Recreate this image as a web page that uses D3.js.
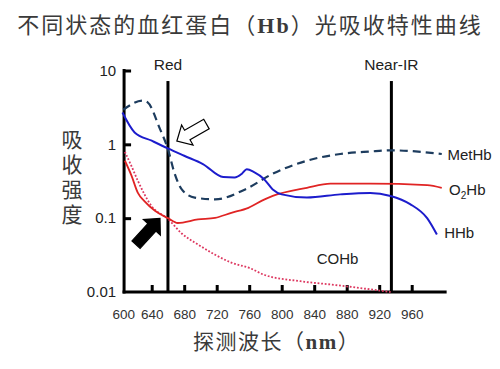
<!DOCTYPE html>
<html><head><meta charset="utf-8">
<script src="https://cdn.jsdelivr.net/npm/d3@7"></script>
<style>
html,body{margin:0;padding:0;background:#fff;}
svg{display:block;}
</style></head>
<body>
<svg id="c" width="500" height="369"></svg>
<script>
// ---- data (wavelength nm, absorbance) ----
const xTicks = [600, 640, 680, 720, 760, 800, 840, 880, 920, 960];
const yTicks = [10, 1, 0.1, 0.01];
const yTickLabels = ["10", "1", "0.1", "0.01"];

const hhbNm  = [604, 619, 640, 660, 680, 703, 728, 742, 751, 757, 766, 778, 789, 800, 831, 872, 909, 934, 958, 979, 991];
const hhbVal = [2.7, 1.45, 1.12, 0.88, 0.70, 0.54, 0.36, 0.355, 0.40, 0.46, 0.42, 0.34, 0.245, 0.21, 0.19, 0.21, 0.22, 0.20, 0.155, 0.10, 0.06];

const metNm  = [605, 629, 635, 650, 660, 668, 677, 693, 718, 755, 789, 831, 872, 909, 934, 997];
const metVal = [2.94, 3.9, 3.7, 1.63, 0.86, 0.41, 0.245, 0.19, 0.18, 0.245, 0.40, 0.60, 0.74, 0.80, 0.83, 0.74];

const o2Nm  = [607, 615, 623, 631, 644, 660, 672, 697, 718, 738, 759, 779, 789, 831, 860, 909, 979, 997];
const o2Val = [0.60, 0.38, 0.22, 0.17, 0.126, 0.10, 0.086, 0.096, 0.101, 0.118, 0.138, 0.18, 0.20, 0.258, 0.293, 0.293, 0.281, 0.258];

const coNm  = [607, 615, 623, 640, 660, 677, 697, 718, 738, 761, 779, 823, 864, 897, 934];
const coVal = [0.79, 0.51, 0.32, 0.145, 0.098, 0.062, 0.044, 0.032, 0.025, 0.021, 0.017, 0.014, 0.0125, 0.0113, 0.0100];

const markerNm = [660, 935];
const markerLabels = ["Red", "Near-IR"];

// ---- scales ----
const svg = d3.select("#c");
const x = d3.scaleLinear().domain([600, 1000]).range([119.2, 444.2]);
const y = d3.scaleLog().domain([0.01, 10]).range([292, 70.5]);

const sans = "'Liberation Sans', Arial, sans-serif";
const cjk = "'Noto Sans CJK SC', sans-serif";
const serif = "'Liberation Serif', 'Times New Roman', serif";

// ---- title ----
const title = svg.append("text").attr("x", 250).attr("y", 33).attr("text-anchor", "middle")
  .style("font-family", cjk).style("font-size", "22px").style("letter-spacing", "2px").attr("fill", "#3a3a3a");
title.append("tspan").text("不同状态的血红蛋白（");
title.append("tspan").text("Hb").style("font-family", serif).style("font-weight", "bold");
title.append("tspan").text("）光吸收特性曲线");

// ---- axes ----
const xAxis = d3.axisBottom(x).tickValues(xTicks).tickSize(-7).tickPadding(17).tickFormat(d3.format("d"));
const gx = svg.append("g").attr("transform", `translate(0,${y(0.01)})`).call(xAxis);
gx.select(".domain").remove();
gx.selectAll(".tick line").attr("stroke", "#000").attr("stroke-width", 3)
  .attr("display", d => d === 600 ? "none" : null);
gx.selectAll(".tick text").style("font-family", sans).style("font-size", "13.5px").attr("fill", "#333")
  .attr("dx", d => d === 600 ? 4 : 0);

const yAxis = d3.axisLeft(y).tickValues(yTicks).tickSize(-7).tickPadding(8)
  .tickFormat((d, i) => yTickLabels[i]);
const gy = svg.append("g").attr("transform", `translate(${x(606)},0)`).call(yAxis);
gy.select(".domain").remove();
gy.selectAll(".tick line").attr("stroke", "#000").attr("stroke-width", 3)
  .attr("display", d => d === 0.01 ? "none" : null);
gy.selectAll(".tick text").style("font-family", sans).style("font-size", "15px").attr("fill", "#222");

// axis lines
svg.append("line").attr("x1", x(606)).attr("x2", x(606)).attr("y1", y(10) - 1.5).attr("y2", y(0.01) + 1.5)
  .attr("stroke", "#000").attr("stroke-width", 3);
svg.append("line").attr("x1", x(606) - 1.5).attr("x2", x(1003)).attr("y1", y(0.01)).attr("y2", y(0.01))
  .attr("stroke", "#000").attr("stroke-width", 3);

// ---- marker lines ----
markerNm.forEach((nm, i) => {
  svg.append("line").attr("x1", x(nm)).attr("x2", x(nm)).attr("y1", y(7.2)).attr("y2", y(0.01))
    .attr("stroke", "#000").attr("stroke-width", 3);
  svg.append("text").attr("x", x(nm)).attr("y", 70).attr("text-anchor", "middle")
    .style("font-family", sans).style("font-size", "15.5px").attr("fill", "#222").text(markerLabels[i]);
});

// ---- curves ----
const line = d3.line().x(d => x(d[0])).y(d => y(d[1])).curve(d3.curveMonotoneX);
const zip = (a, b) => a.map((v, i) => [v, b[i]]);

svg.append("path").datum(zip(coNm, coVal)).attr("d", line).attr("fill", "none")
  .attr("stroke", "#dd3860").attr("stroke-width", 1.8).attr("stroke-dasharray", "1.8,1.8");
svg.append("path").datum(zip(o2Nm, o2Val)).attr("d", line).attr("fill", "none")
  .attr("stroke", "#e02424").attr("stroke-width", 1.8);
svg.append("path").datum(zip(metNm, metVal)).attr("d", line).attr("fill", "none")
  .attr("stroke", "#1d3c5e").attr("stroke-width", 2.2).attr("stroke-dasharray", "8,5");
svg.append("path").datum(zip(hhbNm, hhbVal)).attr("d", line).attr("fill", "none")
  .attr("stroke", "#1c1ccc").attr("stroke-width", 2);

// ---- series labels ----
const lab = (nm, v, txt) => svg.append("text").attr("x", x(nm)).attr("y", y(v)).attr("dy", "0.36em")
  .style("font-family", sans).style("font-size", "15px").attr("fill", "#222").text(txt);
lab(1004, 0.716, "MetHb");
const o2 = lab(1006, 0.24, "O");
o2.append("tspan").text("2").style("font-size", "10px").attr("dy", "4");
o2.append("tspan").text("Hb").attr("dy", "-4");
lab(1000, 0.063, "HHb");
lab(843, 0.028, "COHb");

// ---- arrows ----
function arrow(tipNm, tipV, tailNm, tailV, fill) {
  const tx = x(tipNm), ty = y(tipV), sx = x(tailNm), sy = y(tailV);
  const L = Math.hypot(tx - sx, ty - sy);
  const ux = (tx - sx) / L, uy = (ty - sy) / L, px = -uy, py = ux;
  const hl = 12, hw = 11.5, sw = 5.5;
  const bx = tx - ux * hl, by = ty - uy * hl;
  const pts = [
    [tx, ty],
    [bx + px * hw, by + py * hw],
    [bx + px * sw, by + py * sw],
    [sx + px * sw, sy + py * sw],
    [sx - px * sw, sy - py * sw],
    [bx - px * sw, by - py * sw],
    [bx - px * hw, by - py * hw]
  ];
  svg.append("polygon").attr("points", pts.map(p => p.join(",")).join(" "))
    .attr("fill", fill).attr("stroke", "#000").attr("stroke-width", 1.2).attr("stroke-linejoin", "miter");
}
arrow(671, 1.11, 707.4, 1.88, "#fff");
arrow(650.2, 0.099, 620.7, 0.0438, "#000");

// ---- axis titles ----
svg.append("text").attr("x", 72).attr("y", 129)
  .attr("writing-mode", "tb").style("writing-mode", "vertical-rl")
  .style("font-family", cjk).style("font-size", "21px").style("letter-spacing", "4px")
  .attr("fill", "#3a3a3a").text("吸收强度");
const xt = svg.append("text").attr("x", 193).attr("y", 349)
  .style("font-family", cjk).style("font-size", "21px").style("letter-spacing", "1.5px").attr("fill", "#3a3a3a");
xt.append("tspan").text("探测波长（");
xt.append("tspan").text("nm").style("font-family", serif).style("font-weight", "bold");
xt.append("tspan").text("）");
</script>
</body></html>
